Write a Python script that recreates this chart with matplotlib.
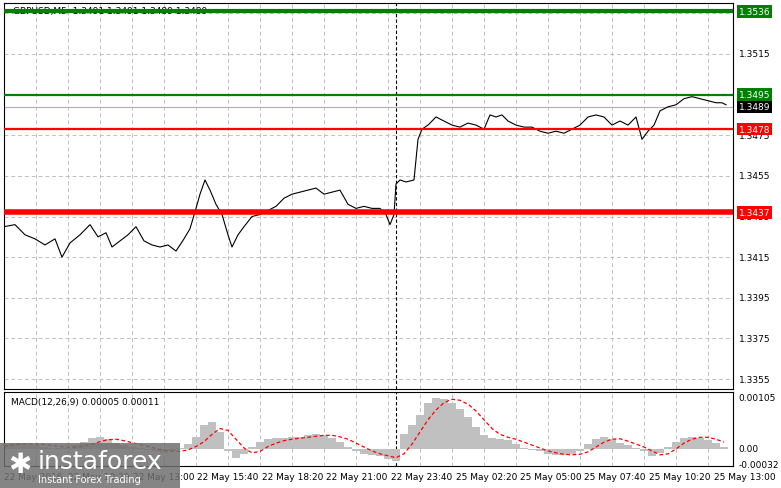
import matplotlib
matplotlib.use("Agg")
import matplotlib.pyplot as plt
import numpy as np

price_px = [4,15,25,35,45,55,62,70,80,90,98,106,112,120,128,136,144,152,160,168,176,184,190,196,200,205,210,216,222,228,232,238,244,252,260,268,276,284,292,300,308,316,324,332,340,348,356,364,372,380,386,390,394,396,400,406,414,418,422,428,436,444,452,460,468,476,484,490,496,502,508,516,524,532,540,548,556,564,572,580,588,596,604,612,620,628,636,642,648,654,660,668,676,684,692,700,708,716,722,726]
prices = [1.3430,1.3431,1.3426,1.3424,1.3421,1.3424,1.3415,1.3422,1.3426,1.3431,1.3425,1.3427,1.3420,1.3423,1.3426,1.3430,1.3423,1.3421,1.3420,1.3421,1.3418,1.3424,1.3429,1.3439,1.3446,1.3453,1.3448,1.3441,1.3436,1.3426,1.3420,1.3426,1.3430,1.3435,1.3436,1.3438,1.3440,1.3444,1.3446,1.3447,1.3448,1.3449,1.3446,1.3447,1.3448,1.3441,1.3439,1.3440,1.3439,1.3439,1.3436,1.3431,1.3436,1.3451,1.3453,1.3452,1.3453,1.3473,1.3478,1.3480,1.3484,1.3482,1.3480,1.3479,1.3481,1.3480,1.3478,1.3485,1.3484,1.3485,1.3482,1.3480,1.3479,1.3479,1.3477,1.3476,1.3477,1.3476,1.3478,1.3480,1.3484,1.3485,1.3484,1.3480,1.3482,1.3480,1.3484,1.3473,1.3477,1.3480,1.3487,1.3489,1.3490,1.3493,1.3494,1.3493,1.3492,1.3491,1.3491,1.3490]

macd_px = [4,12,20,28,36,44,52,60,68,76,84,92,100,108,116,124,132,140,148,156,164,172,180,188,196,204,212,220,228,236,244,252,260,268,276,284,292,300,308,316,324,332,340,348,356,364,372,380,388,396,404,412,420,428,436,444,452,460,468,476,484,492,500,508,516,524,532,540,548,556,564,572,580,588,596,604,612,620,628,636,644,652,660,668,676,684,692,700,708,716,724]
macd_hist = [10,12,12,10,8,5,3,2,3,8,15,22,25,20,12,8,5,2,-2,-5,-8,-5,2,10,25,50,55,35,-5,-18,-10,5,15,20,22,22,24,25,28,30,28,22,15,5,-5,-10,-12,-15,-20,-25,30,50,70,95,105,102,95,82,65,45,28,22,20,18,10,2,-2,-5,-10,-12,-12,-10,-5,10,20,25,20,12,8,2,-5,-15,-8,5,15,22,25,22,18,12,5]
macd_signal = [6,8,10,11,10,9,7,5,4,4,6,10,15,19,20,17,13,9,5,1,-3,-5,-5,-2,5,15,30,42,38,20,2,-8,-5,5,12,17,20,22,24,26,28,28,25,20,12,4,-4,-10,-14,-18,-10,10,35,60,80,95,102,100,92,78,60,42,30,24,20,14,8,2,-4,-8,-11,-12,-11,-6,4,14,20,21,16,10,4,-4,-12,-10,0,12,20,24,24,20,14]

levels = [1.3536, 1.3495, 1.3478, 1.3437]
level_colors = ['#008000', '#008000', '#ff0000', '#ff0000']
level_widths = [3.0, 1.6, 1.6, 4.0]
current = 1.3489
right_ticks = [1.3515, 1.3475, 1.3455, 1.3435, 1.3415, 1.3395, 1.3375, 1.3355]
time_labels = ["22 May 2016", "22 May 10:20", "22 May 13:00", "22 May 15:40", "22 May 18:20", "22 May 21:00",
               "22 May 23:40", "25 May 02:20", "25 May 05:00", "25 May 07:40", "25 May 10:20", "25 May 13:00"]

W, H = 781, 489
fig = plt.figure(figsize=(W/100, H/100), dpi=100)
L, R = 4, 733
ax = fig.add_axes([L/W, 1-390/H, (R-L)/W, 386/H])
ax2 = fig.add_axes([L/W, 1-467/H, (R-L)/W, 74/H])

def tobar(px): return (np.array(px) - L) / 2.0
xmax = (R - L) / 2.0

for a in (ax, ax2):
    a.set_xlim(0, xmax)
    for s in a.spines.values():
        s.set_color('black'); s.set_linewidth(0.8)
    a.set_xticks([]); a.set_yticks([])
    for g in np.arange(16, xmax, 16):
        a.axvline(g, color='#c0c0c0', ls=(0, (4, 3)), lw=0.7, zorder=0)
    a.axvline(tobar(396), color='black', ls=(0, (3, 2)), lw=0.8, zorder=1)

ax.set_ylim(1.33501, 1.35401)
for t in np.arange(1.3355, 1.3536, 0.002):
    ax.axhline(t, color='#c0c0c0', ls=(0, (4, 3)), lw=0.7, zorder=0)
ax.plot(tobar(price_px), prices, color='black', lw=0.8, zorder=3)
ax.axhline(current, color='#b0b0b0', lw=0.8, zorder=2)
for lv, c, w in zip(levels, level_colors, level_widths):
    ax.axhline(lv, color=c, lw=w, zorder=4)

tr = ax.get_yaxis_transform()
for t in right_ticks:
    ax.text(1.008, t, f"{t:.4f}", transform=tr, fontsize=6.5, va='center', ha='left')
for lv, c in zip(levels, level_colors):
    ax.text(1.008, lv, f"{lv:.4f}", transform=tr, fontsize=6.5, va='center', ha='left', color='white',
            bbox=dict(boxstyle='square,pad=0.2', fc=c, ec='none'))
ax.text(1.008, current, f"{current:.4f}", transform=tr, fontsize=6.5, va='center', ha='left', color='white',
        bbox=dict(boxstyle='square,pad=0.2', fc='black', ec='none'))
ax.text(0.012, 0.993, "GBPUSD,M5  1.3491 1.3491 1.3489 1.3489", transform=ax.transAxes, fontsize=6.5,
        va='top', ha='left', zorder=2)

ax2.set_ylim(-0.00035, 0.00117)
ax2.bar(tobar(macd_px), np.array(macd_hist) * 1e-5, width=4.0, color='#c0c0c0', zorder=2)
ax2.plot(tobar(macd_px), np.array(macd_signal) * 1e-5, color='red', ls=(0, (3, 2)), lw=0.9, zorder=3)
tr2 = ax2.get_yaxis_transform()
for v, s in [(0.00105, "0.00105"), (0.0, "0.00"), (-0.00032, "-0.00032")]:
    ax2.text(1.008, v, s, transform=tr2, fontsize=6.5, va='center', ha='left')
ax2.text(0.01, 0.93, "MACD(12,26,9) 0.00005 0.00011", transform=ax2.transAxes, fontsize=6.5, va='top')

for i, lab in enumerate(time_labels):
    px = L + i * 64.5
    fig.text(px / W, 1 - 478 / H, lab, fontsize=6.5, ha='left', va='center')

# watermark
fig.patches.append(plt.Rectangle((0, 0), 180 / W, 45 / H, transform=fig.transFigure,
                                 fc='#707070', alpha=0.85, ec='none', zorder=5))
fig.text(38 / W, 27 / H, "instaforex", fontsize=18, color='white', ha='left', va='center', zorder=6)
fig.text(38 / W, 9 / H, "Instant Forex Trading", fontsize=7, color='white', ha='left', va='center', zorder=6)
fig.text(8 / W, 24 / H, "✱", fontsize=20, color='white', ha='left', va='center', zorder=6)

fig.savefig("out.png", dpi=100)
